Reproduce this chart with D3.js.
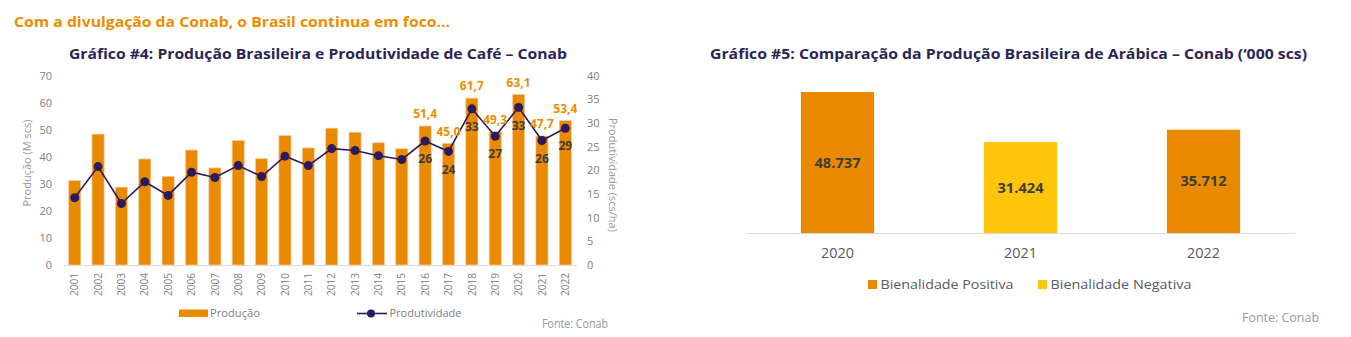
<!DOCTYPE html>
<html lang="pt">
<head>
  <meta charset='utf-8'>
  <title>Café – Conab</title>
  <style>
     body { margin: 0; background: #fff; }
     svg text { font-family: "Open Sans", "DejaVu Sans", sans-serif; }
  </style>
</head>
<body>
  <div id="d3-container"></div>

<script src="https://cdn.jsdelivr.net/npm/d3@7"></script>
<script>
    ////////////////////////////////////////////////// DATA
    // Gráfico #4
    var anos      = ["2001","2002","2003","2004","2005","2006","2007","2008","2009","2010","2011",
                     "2012","2013","2014","2015","2016","2017","2018","2019","2020","2021","2022"];
    var producao  = [31.2, 48.4, 28.8, 39.2, 32.8, 42.5, 35.9, 46.0, 39.3, 47.9, 43.3,
                     50.6, 49.1, 45.2, 43.0, 51.4, 45.0, 61.7, 49.3, 63.1, 47.7, 53.4];
    var produtividade = [14.2, 20.8, 13.0, 17.6, 14.7, 19.6, 18.5, 21.0, 18.7, 23.0, 21.0,
                     24.6, 24.2, 23.1, 22.3, 26.2, 24.0, 33.0, 27.2, 33.3, 26.3, 28.9];
    var anosRotulados = ["2016","2017","2018","2019","2020","2021","2022"];
    var ticksProducao = [0, 10, 20, 30, 40, 50, 60, 70];
    var ticksProdutiv = [0, 5, 10, 15, 20, 25, 30, 35, 40];

    // Gráfico #5
    var anosArabica = ["2020", "2021", "2022"];
    var arabica     = [48737, 31424, 35712];
    var bienalidade = ["Bienalidade Positiva", "Bienalidade Negativa", "Bienalidade Positiva"];
    var legendas5   = ["Bienalidade Positiva", "Bienalidade Negativa"];

    ////////////////////////////////////////////////// SETUP
    var W = 1351, H = 337;
    var laranja = "#EA8A00", amarelo = "#FFC50A", marinho = "#2B1B5C";
    var cinza = "#808080";

    var br = d3.formatLocale({decimal: ",", thousands: ".", grouping: [3], currency: ["R$", ""]});
    var fmt1 = br.format(".1f"), fmtMil = br.format(",.0f");

    var svg = d3.select("#d3-container").append("svg")
        .attr("width", W).attr("height", H);

    // stretch text to the measured width of the original
    function fit(sel, w) {
        sel.attr("textLength", w).attr("lengthAdjust", "spacingAndGlyphs");
        return sel;
    }

    svg.append("text")
        .attr("x", 14).attr("y", 26.5)
        .attr("font-size", 15).attr("font-weight", "bold")
        .attr("fill", "#EE8C00")
        .text("Com a divulgação da Conab, o Brasil continua em foco...")
        .call(fit, 436);

    ////////////////////////////////////////////////// GRÁFICO 4
    var g4 = svg.append("g");

    g4.append("text")
        .attr("x", 69).attr("y", 58.5)
        .attr("font-size", 14.5).attr("font-weight", "bold")
        .attr("fill", "#2B2555")
        .text("Gráfico #4: Produção Brasileira e Produtividade de Café – Conab")
        .call(fit, 498);

    var x4 = d3.scaleBand().domain(anos).range([63, 577]).paddingInner(0.48).paddingOuter(0.24);
    var y4 = d3.scaleLinear().domain([0, 70]).range([265, 75.7]);
    var y4r = d3.scaleLinear().domain([0, 40]).range([265, 75.7]);

    // left axis
    var axL = g4.append("g").attr("transform", "translate(56,0)")
        .call(d3.axisLeft(y4).tickValues(ticksProducao).tickSize(0).tickPadding(4));
    axL.select(".domain").remove();
    axL.selectAll("text").attr("font-size", 11).attr("fill", cinza).attr("font-family", null);

    // right axis
    var axR = g4.append("g").attr("transform", "translate(583,0)")
        .call(d3.axisRight(y4r).tickValues(ticksProdutiv).tickSize(0).tickPadding(4));
    axR.select(".domain").remove();
    axR.selectAll("text").attr("font-size", 11).attr("fill", cinza).attr("font-family", null);

    // bars
    g4.append("g").selectAll("rect")
        .data(anos)
        .join("rect")
        .attr("x", d => x4(d))
        .attr("width", x4.bandwidth())
        .attr("y", (d, i) => y4(producao[i]))
        .attr("height", (d, i) => y4(0) - y4(producao[i]))
        .attr("fill", laranja)
        .attr("stroke", "#f8cfae").attr("stroke-width", 0.7);

    // bottom axis
    var axB = g4.append("g").attr("transform", "translate(0,265)")
        .call(d3.axisBottom(x4).tickSize(0).tickPadding(0));
    axB.select(".domain").attr("stroke", "#d9d9d9").attr("stroke-width", 1.2);
    axB.selectAll("text")
        .attr("font-size", 10.5).attr("fill", cinza).attr("font-family", null)
        .attr("transform", "rotate(-90)")
        .attr("text-anchor", "end")
        .attr("x", -8).attr("y", 0).attr("dy", "0.35em")
        .call(fit, 23);

    // line
    var cx = d => x4(d) + x4.bandwidth() / 2;
    var line = d3.line()
        .x((d, i) => cx(anos[i]))
        .y(d => y4r(d));
    g4.append("path")
        .datum(produtividade)
        .attr("d", line)
        .attr("fill", "none")
        .attr("stroke", marinho)
        .attr("stroke-width", 1.6);

    g4.append("g").selectAll("circle")
        .data(anos)
        .join("circle")
        .attr("cx", cx)
        .attr("cy", (d, i) => y4r(produtividade[i]))
        .attr("r", 4.5)
        .attr("fill", marinho);

    // data labels
    var rot = anos.map((d, i) => i).filter(i => anosRotulados.includes(anos[i]));
    g4.append("g").selectAll("text")
        .data(rot)
        .join("text")
        .attr("x", i => cx(anos[i]))
        .attr("y", i => y4(producao[i]) - 12)
        .attr("dy", "0.35em")
        .attr("text-anchor", "middle")
        .attr("font-size", 12).attr("font-weight", "bold")
        .attr("fill", "#EE8C00")
        .text(i => fmt1(producao[i]));

    g4.append("g").selectAll("text")
        .data(rot)
        .join("text")
        .attr("x", i => cx(anos[i]))
        .attr("y", i => y4r(produtividade[i]) + 18)
        .attr("dy", "0.35em")
        .attr("text-anchor", "middle")
        .attr("font-size", 12).attr("font-weight", "bold")
        .attr("fill", "#3d3d3d")
        .text(i => d3.format(".0f")(produtividade[i]));

    // axis titles
    g4.append("text")
        .attr("transform", "translate(27,163) rotate(-90)")
        .attr("text-anchor", "middle").attr("dy", "0.35em")
        .attr("font-size", 10.5).attr("fill", "#999")
        .text("Produção (M scs)")
        .call(fit, 87);

    g4.append("text")
        .attr("transform", "translate(613,175) rotate(90)")
        .attr("text-anchor", "middle").attr("dy", "0.35em")
        .attr("font-size", 10.5).attr("fill", "#999")
        .text("Produtividade (scs/ha)")
        .call(fit, 114);

    // legend
    var leg4 = g4.append("g");
    leg4.append("rect")
        .attr("x", 179).attr("y", 309.5).attr("width", 29).attr("height", 7.5)
        .attr("fill", laranja);
    leg4.append("text")
        .attr("x", 210).attr("y", 313.5).attr("dy", "0.35em")
        .attr("font-size", 11).attr("fill", cinza)
        .text("Produção").call(fit, 50);
    leg4.append("line")
        .attr("x1", 357).attr("x2", 387).attr("y1", 313.5).attr("y2", 313.5)
        .attr("stroke", marinho).attr("stroke-width", 1.6);
    leg4.append("circle")
        .attr("cx", 371).attr("cy", 313.5).attr("r", 4).attr("fill", marinho);
    leg4.append("text")
        .attr("x", 389.5).attr("y", 313.5).attr("dy", "0.35em")
        .attr("font-size", 11).attr("fill", cinza)
        .text("Produtividade").call(fit, 72);

    g4.append("text")
        .attr("x", 608).attr("y", 324).attr("dy", "0.35em")
        .attr("text-anchor", "end")
        .attr("font-size", 12).attr("fill", "#999")
        .text("Fonte: Conab").call(fit, 66);

    ////////////////////////////////////////////////// GRÁFICO 5
    var g5 = svg.append("g");

    g5.append("text")
        .attr("x", 710).attr("y", 58.5)
        .attr("font-size", 14.5).attr("font-weight", "bold")
        .attr("fill", "#2B2555")
        .text("Gráfico #5: Comparação da Produção Brasileira de Arábica – Conab (‘000 scs)")
        .call(fit, 597);

    var x5 = d3.scaleBand().domain(anosArabica).range([746, 1295]).paddingInner(0.6).paddingOuter(0.3);
    var y5 = d3.scaleLinear().domain([0, 50000]).range([233, 88.35]);
    var cor5 = d3.scaleOrdinal().domain(legendas5).range([laranja, amarelo]);

    g5.append("g").selectAll("rect")
        .data(anosArabica)
        .join("rect")
        .attr("x", d => x5(d))
        .attr("width", x5.bandwidth())
        .attr("y", (d, i) => y5(arabica[i]))
        .attr("height", (d, i) => y5(0) - y5(arabica[i]))
        .attr("fill", (d, i) => cor5(bienalidade[i]));

    g5.append("g").selectAll("text")
        .data(anosArabica)
        .join("text")
        .attr("x", d => x5(d) + x5.bandwidth() / 2)
        .attr("y", (d, i) => (y5(arabica[i]) + y5(0)) / 2)
        .attr("dy", "0.35em")
        .attr("text-anchor", "middle")
        .attr("font-size", 14.5).attr("font-weight", "bold")
        .attr("fill", "#3d3d3d")
        .text((d, i) => fmtMil(arabica[i]))
        .call(fit, 46);

    var axB5 = g5.append("g").attr("transform", "translate(0,233)")
        .call(d3.axisBottom(x5).tickSize(0).tickPadding(15));
    axB5.select(".domain").attr("stroke", "#d9d9d9").attr("stroke-width", 1.2);
    axB5.selectAll("text")
        .attr("font-size", 14).attr("fill", "#595959").attr("font-family", null)
        .call(fit, 33);

    // legend
    var legX = [868, 1038];
    var leg5 = g5.append("g").selectAll("g")
        .data(legendas5)
        .join("g")
        .attr("transform", (d, i) => `translate(${legX[i]},280)`);
    leg5.append("rect")
        .attr("width", 9).attr("height", 9)
        .attr("fill", d => cor5(d));
    leg5.append("text")
        .attr("x", 12.5).attr("y", 4.5).attr("dy", "0.35em")
        .attr("font-size", 13.5).attr("fill", "#595959")
        .text(d => d)
        .attr("textLength", d => d === legendas5[0] ? 133 : 141)
        .attr("lengthAdjust", "spacingAndGlyphs");

    g5.append("text")
        .attr("x", 1319).attr("y", 317).attr("dy", "0.35em")
        .attr("text-anchor", "end")
        .attr("font-size", 13).attr("fill", "#999")
        .text("Fonte: Conab").call(fit, 77);
</script>
</body>
</html>
